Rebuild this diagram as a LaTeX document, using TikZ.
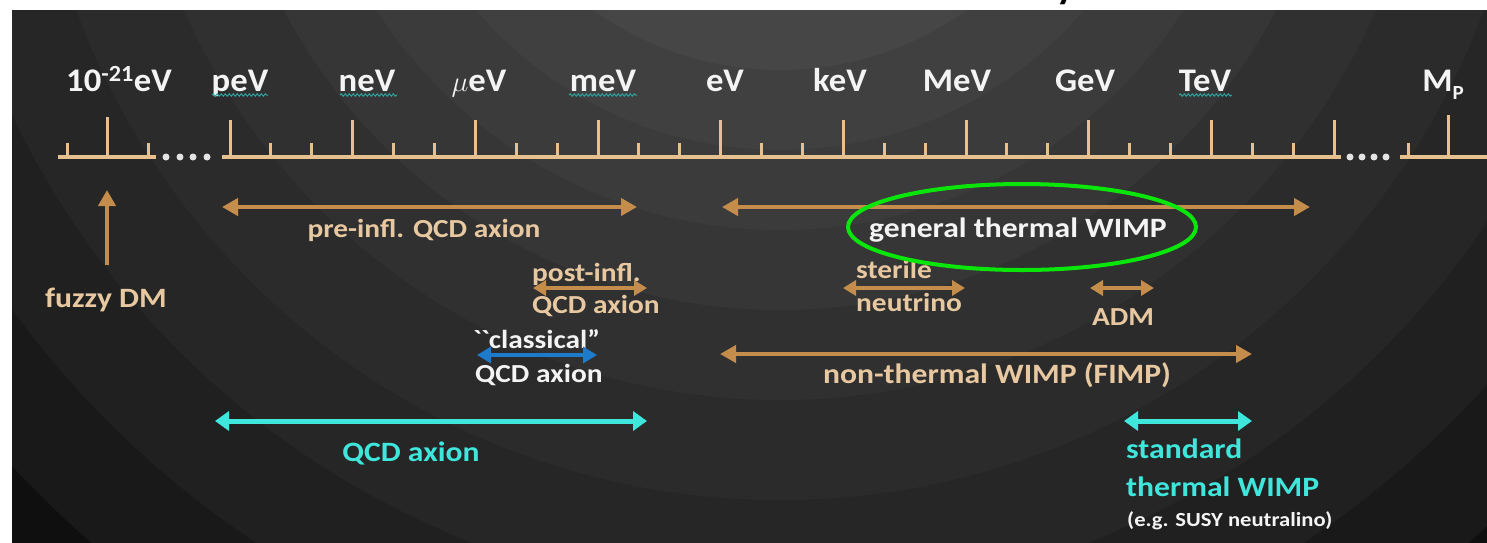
\documentclass[tikz,border=0pt]{standalone}
\usepackage{fontspec}
\setmainfont{Carlito}
\newfontfamily\labfont[FakeStretch=1.13]{Carlito}
\newfontfamily\axfont[FakeStretch=1.05]{Carlito}
\usetikzlibrary{arrows.meta,decorations.pathmorphing}
\definecolor{axisc}{HTML}{E6C08E}
\definecolor{arrc}{HTML}{C48D4C}
\definecolor{tanc}{HTML}{E8C8A0}
\definecolor{cyanc}{HTML}{3EE6DC}
\definecolor{bluec}{HTML}{1E7BCB}
\definecolor{greenc}{HTML}{0AE60A}
\definecolor{wtext}{HTML}{F4F4F4}
\definecolor{squigc}{HTML}{2FA6A0}
\definecolor{dotc}{HTML}{E4E4E4}
\tikzset{
  axisline/.style={draw=axisc, line width=4pt},
  tickline/.style={draw=axisc, line width=3pt},
  axlabel/.style={text=wtext, font=\axfont\bfseries\fontsize{33}{36}\selectfont, anchor=base, inner sep=0pt},
  lab/.style={font=\labfont\bfseries\fontsize{26}{30}\selectfont, inner sep=0pt},
  biglab/.style={font=\labfont\bfseries\fontsize{28}{32}\selectfont, inner sep=0pt},
  tanlab/.style={lab, text=tanc},
  whitelab/.style={lab, text=wtext},
  cyanlab/.style={biglab, text=cyanc},
  bigarrow/.style={draw=arrc, line width=4pt, {Triangle[width=17pt,length=16pt]}-{Triangle[width=17pt,length=16pt]}},
  smallarrow/.style={draw=arrc, line width=3.5pt, {Triangle[width=15pt,length=13pt]}-{Triangle[width=15pt,length=13pt]}},
  bluearrow/.style={draw=bluec, line width=4pt, {Triangle[width=16pt,length=14pt]}-{Triangle[width=16pt,length=14pt]}},
  cyanarrow/.style={draw=cyanc, line width=5pt, {Triangle[width=19pt,length=14pt]}-{Triangle[width=19pt,length=14pt]}},
  squig/.style={draw=squigc, line width=1pt, decorate, decoration={snake, amplitude=1.1pt, segment length=4pt}},
  dotsty/.style={fill=dotc}
}
\begin{document}
\begin{tikzpicture}[x=1pt,y=-1pt]
\useasboundingbox (0,0) rectangle (1487,542);
\fill[white] (0,0) rectangle (1487,542);
% clipped title fragment
\begin{scope}
\clip (0,0) rectangle (1487,10);
\node[text=black, font=\bfseries\fontsize{40}{44}\selectfont, inner sep=0pt, anchor=base] (titlefrag) at (1066,-2) {y};
\end{scope}
% background rings
\begin{scope}
\clip (12,10) rectangle (1487,542);
\fill[black] (12,10) rectangle (1487,542);
\foreach \r/\g in {1150/0.06,1050/0.10,950/0.125,850/0.15,750/0.17,650/0.19,560/0.21,480/0.23,400/0.25,320/0.275}{
  \definecolor{ringc}{gray}{\g}
  \fill[ringc] (780,-250) circle[radius=\r pt];
}
\end{scope}
% axis segments
\draw[axisline] (58,157) -- (156,157);
\draw[axisline] (222,157) -- (1341,157);
\draw[axisline] (1400,157) -- (1487,157);
% ticks first segment
\draw[tickline] (67,158) -- (67,143);
\draw[tickline] (107,158) -- (107,117);
\draw[tickline] (148,158) -- (148,143);
% main ticks
\foreach \k in {0,...,9}{
  \draw[tickline] ({230+122.67*\k},158) -- ({230+122.67*\k},120);
}
\foreach \k in {0,...,8}{
  \draw[tickline] ({230+122.67*\k+40.9},158) -- ({230+122.67*\k+40.9},143);
  \draw[tickline] ({230+122.67*\k+81.8},158) -- ({230+122.67*\k+81.8},143);
}
% last segment
\draw[tickline] (1408,158) -- (1408,143);
\draw[tickline] (1448,158) -- (1448,115);
% dots
\foreach \x in {166,180,193,207,1350,1362,1374,1386}{
  \fill[dotsty] (\x,157) circle[radius=3.5pt];
}
% axis labels
\node[axlabel] (l21) at (119,91) {10\textsuperscript{-21}eV};
\node[axlabel] (lpeV) at (240,91) {peV};
\node[axlabel] (lneV) at (367,91) {neV};
\node[axlabel] (lmueV) at (479,91) {\scalebox{1.15}{$\mu$}eV};
\node[axlabel] (lmeV) at (603,91) {meV};
\node[axlabel] (leV) at (725,91) {eV};
\node[axlabel] (lkeV) at (840,91) {keV};
\node[axlabel] (lMeV) at (957,91) {MeV};
\node[axlabel] (lGeV) at (1085,91) {GeV};
\node[axlabel] (lTeV) at (1205,91) {TeV};
\node[axlabel] (lMP) at (1443,91) {M\raisebox{-0.25em}{\fontsize{20}{22}\selectfont P}};
% spell-check squiggles
\draw[squig] (212,95) -- (268,95);
\draw[squig] (340,95) -- (397,95);
\draw[squig] (569,95) -- (637,95);
\draw[squig] (1179,95) -- (1232,95);
% fuzzy DM
\coordinate (fz1) at (107,265);
\coordinate (fz2) at (107,190);
\draw[draw=arrc, line width=4.5pt, -{Triangle[width=17pt,length=16pt]}] (fz1) -- (fz2);
\node[biglab, text=tanc, anchor=base] (fuzzy) at (106,307) {fuzzy DM};
% pre-infl
\coordinate (pre1) at (222,207);
\coordinate (pre2) at (637,207);
\draw[bigarrow] (pre1) -- (pre2);
\node[tanlab, anchor=base] (pre) at (424,237) {pre-infl. QCD axion};
% general thermal WIMP
\coordinate (gen1) at (722,207);
\coordinate (gen2) at (1310,207);
\draw[bigarrow] (gen1) -- (gen2);
\node[biglab, text=wtext, anchor=base] (gen) at (1018,237) {general thermal WIMP};
% post-infl
\coordinate (post1) at (533,288);
\coordinate (post2) at (647,288);
\node[tanlab, anchor=base west] (postA) at (532,281) {post-infl.};
\node[tanlab, anchor=base west] (postB) at (532,313) {QCD axion};
\draw[smallarrow] (post1) -- (post2);
% classical
\node[whitelab, anchor=base west] (clA) at (473,348) {\textasciigrave\textasciigrave classical”};
\node[whitelab, anchor=base west] (clB) at (475,382) {QCD axion};
\coordinate (cl1) at (477,355);
\coordinate (cl2) at (597,355);
\draw[bluearrow] (cl1) -- (cl2);
% sterile neutrino
\node[tanlab, anchor=base west] (stA) at (856,278) {sterile};
\node[tanlab, anchor=base west] (stB) at (856,311) {neutrino};
\coordinate (st1) at (843,288);
\coordinate (st2) at (965,288);
\draw[smallarrow] (st1) -- (st2);
% ADM
\coordinate (adm1) at (1090,288);
\coordinate (adm2) at (1154,288);
\draw[smallarrow] (adm1) -- (adm2);
\node[tanlab, anchor=base] (adm) at (1123,325) {ADM};
% non-thermal
\coordinate (nt1) at (720,354);
\coordinate (nt2) at (1252,354);
\draw[bigarrow] (nt1) -- (nt2);
\node[biglab, text=tanc, anchor=base] (nt) at (997,383) {non-thermal WIMP (FIMP)};
% QCD axion cyan
\coordinate (qa1) at (215,421);
\coordinate (qa2) at (647,421);
\draw[cyanarrow] (qa1) -- (qa2);
\node[cyanlab, anchor=base] (qa) at (411,461) {QCD axion};
% standard thermal WIMP
\coordinate (sw1) at (1124,421);
\coordinate (sw2) at (1252,421);
\draw[cyanarrow] (sw1) -- (sw2);
\node[cyanlab, anchor=base west] (swA) at (1126,458) {standard};
\node[cyanlab, anchor=base west] (swB) at (1126,496) {thermal WIMP};
\node[text=wtext, font=\labfont\bfseries\fontsize{20}{22}\selectfont, inner sep=0pt, anchor=base west] (susy) at (1127,526) {(e.g. SUSY neutralino)};
% green ellipse
\draw[draw=greenc, line width=4pt] (1022,227) ellipse[x radius=174pt, y radius=43pt];
\end{tikzpicture}
\end{document}
